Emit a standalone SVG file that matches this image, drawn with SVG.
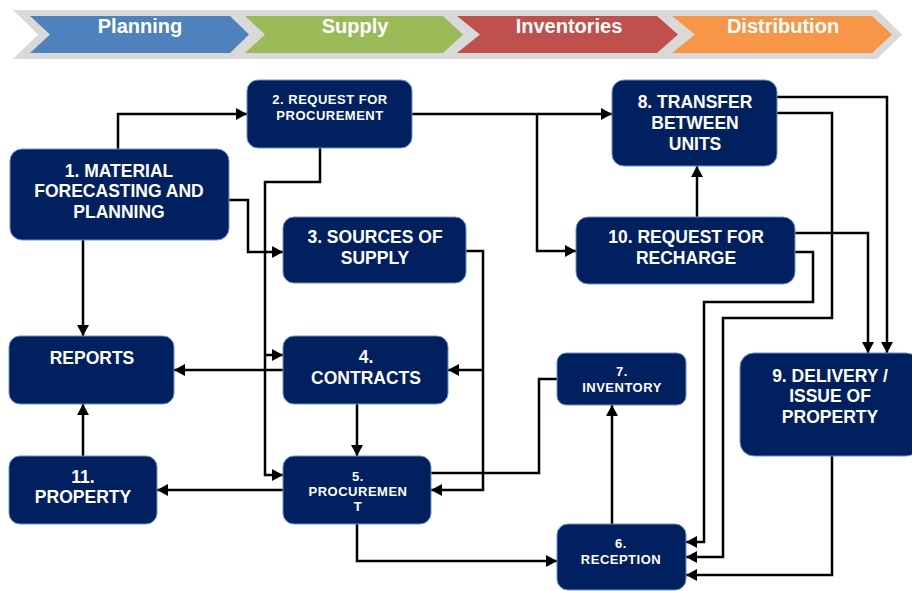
<svg xmlns="http://www.w3.org/2000/svg" width="912" height="591" viewBox="0 0 912 591">
<style>
.box{fill:#002060;stroke:#6f8fc8;stroke-width:1}
.t{font-family:"Liberation Sans",Arial,sans-serif;font-weight:bold;fill:#ffffff;text-anchor:middle}
.big{font-size:17.5px}
.sm{font-size:13px;letter-spacing:0.5px}
.ban{font-size:20px}
.c{fill:none;stroke:#000000;stroke-width:2.5}
.a{marker-end:url(#ah)}
</style>
<defs>
<marker id="ah" markerUnits="userSpaceOnUse" markerWidth="12" markerHeight="12" refX="11" refY="6" orient="auto">
<path d="M0,0 L11,6 L0,12 z" fill="#000000"/>
</marker>
</defs>
<rect width="912" height="591" fill="#ffffff"/>
<g id="banner">
<polygon points="13,10 877,10 902,34.5 877,59 13,59 38,34.5" fill="#d9d9d9"/>
<polygon points="30,16 230,16 249,34.5 230,53 30,53 50,34.5" fill="#4f81bd"/>
<polygon points="245,16 443,16 463,34.5 443,53 245,53 265,34.5" fill="#9bbb59"/>
<polygon points="457,16 657,16 678,34.5 657,53 457,53 480,34.5" fill="#c0504d"/>
<polygon points="672,16 872,16 892,34.5 872,53 672,53 695,34.5" fill="#f79646"/>
<text class="t ban" x="140" y="33">Planning</text>
<text class="t ban" x="355" y="33">Supply</text>
<text class="t ban" x="569" y="33">Inventories</text>
<text class="t ban" x="783" y="33">Distribution</text>
</g>
<g id="connectors">
<path class="c a" d="M118,149 V114 H247"/>
<path class="c a" d="M229,200 H248 V252 H283"/>
<path class="c a" d="M320,148 V182 H265 V475 H283"/>
<path class="c a" d="M265,355 H283"/>
<path class="c a" d="M412,114 H612"/>
<path class="c a" d="M537,114 V251 H576"/>
<path class="c a" d="M83,240 V336"/>
<path class="c a" d="M283,370 H174"/>
<path class="c a" d="M83,456 V404"/>
<path class="c a" d="M357,404 V456"/>
<path class="c a" d="M283,490 H157"/>
<path class="c a" d="M466,251 H483 V490 H431"/>
<path class="c a" d="M483,370 H448"/>
<path class="c" d="M557,379 H539 V473 H431"/>
<path class="c a" d="M357,524 V561 H557"/>
<path class="c a" d="M612,524 V405"/>
<path class="c a" d="M697,217 V166"/>
<path class="c a" d="M777,97 H887 V353"/>
<path class="c a" d="M795,233 H868 V353"/>
<path class="c a" d="M777,113 H832 V318 H723 V557 H686"/>
<path class="c a" d="M795,252 H813 V302 H704 V542 H686"/>
<path class="c a" d="M832,456 V575 H686"/>
</g>
<g id="n1"><rect class="box" x="10" y="149" width="219" height="91" rx="12"/>
<text class="t big" x="119" y="177">1. MATERIAL</text><text class="t big" x="119" y="197">FORECASTING AND</text><text class="t big" x="119" y="218">PLANNING</text></g>
<g id="n2"><rect class="box" x="247" y="80" width="165" height="68" rx="11"/>
<text class="t sm" x="330" y="104">2. REQUEST FOR</text><text class="t sm" x="330" y="120">PROCUREMENT</text></g>
<g id="n3"><rect class="box" x="283" y="217" width="183" height="66" rx="11"/>
<text class="t big" x="375" y="243">3. SOURCES OF</text><text class="t big" x="375" y="264">SUPPLY</text></g>
<g id="n8"><rect class="box" x="612" y="80" width="165" height="86" rx="12"/>
<text class="t big" x="695" y="108">8. TRANSFER</text><text class="t big" x="695" y="129">BETWEEN</text><text class="t big" x="695" y="150">UNITS</text></g>
<g id="n10"><rect class="box" x="576" y="217" width="219" height="67" rx="12"/>
<text class="t big" x="686" y="243">10. REQUEST FOR</text><text class="t big" x="686" y="264">RECHARGE</text></g>
<g id="reports"><rect class="box" x="9" y="336" width="165" height="68" rx="11"/>
<text class="t big" x="92" y="364">REPORTS</text></g>
<g id="n4"><rect class="box" x="283" y="336" width="165" height="68" rx="11"/>
<text class="t big" x="366" y="363">4.</text><text class="t big" x="366" y="384">CONTRACTS</text></g>
<g id="n11"><rect class="box" x="9" y="456" width="148" height="68" rx="11"/>
<text class="t big" x="83" y="483">11.</text><text class="t big" x="83" y="503">PROPERTY</text></g>
<g id="n5"><rect class="box" x="283" y="456" width="148" height="68" rx="11"/>
<text class="t sm" x="358" y="481">5.</text><text class="t sm" x="358" y="496">PROCUREMEN</text><text class="t sm" x="358" y="511">T</text></g>
<g id="n7"><rect class="box" x="557" y="353" width="129" height="52" rx="9"/>
<text class="t sm" x="622" y="376">7.</text><text class="t sm" x="622" y="392">INVENTORY</text></g>
<g id="n6"><rect class="box" x="557" y="524" width="129" height="66" rx="11"/>
<text class="t sm" x="621" y="548">6.</text><text class="t sm" x="621" y="564">RECEPTION</text></g>
<g id="n9"><rect class="box" x="740" y="353" width="180" height="103" rx="14"/>
<text class="t big" x="830" y="382">9. DELIVERY /</text><text class="t big" x="830" y="402">ISSUE OF</text><text class="t big" x="830" y="423">PROPERTY</text></g>
</svg>
